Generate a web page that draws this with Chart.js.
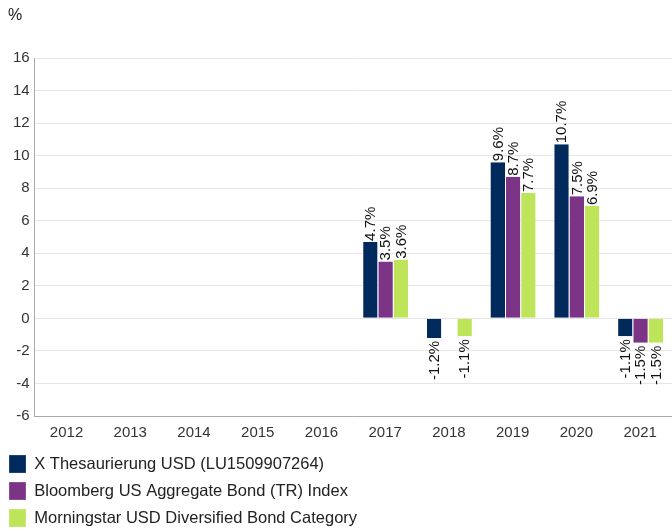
<!DOCTYPE html>
<html>
<head>
<meta charset="utf-8">
<script src="https://cdn.jsdelivr.net/npm/chart.js@4"></script>
<style>
  html, body { margin: 0; padding: 0; background: #fff; }
  #wrap { position: relative; width: 672px; height: 531px; }
  #unit { position: absolute; left: 8px; top: 6px; font: 16px "Liberation Sans", Arial, sans-serif; color: #222; }
</style>
</head>
<body>
<div id="wrap">
  <div id="unit">%</div>
  <canvas id="chartBar" width="672" height="531"></canvas>
</div>
<script>
const years = ['2012', '2013', '2014', '2015', '2016', '2017', '2018', '2019', '2020', '2021'];
const fundValues = [null, null, null, null, null, 4.7, -1.2, 9.6, 10.7, -1.1];
const indexValues = [null, null, null, null, null, 3.5, null, 8.7, 7.5, -1.5];
const categoryValues = [null, null, null, null, null, 3.6, -1.1, 7.7, 6.9, -1.5];
const seriesNames = [
    'X Thesaurierung USD (LU1509907264)',
    'Bloomberg US Aggregate Bond (TR) Index',
    'Morningstar USD Diversified Bond Category'
];

const fontFamily = '"Liberation Sans", Arial, sans-serif';

// valeurs au-dessus / en-dessous des barres, texte vertical
const barLabels = {
    id: 'barLabels',
    afterDatasetsDraw(chart) {
        const ctx = chart.ctx;
        ctx.save();
        ctx.font = '15px ' + fontFamily;
        ctx.fillStyle = '#111';
        ctx.textBaseline = 'middle';
        chart.data.datasets.forEach((ds, i) => {
            const meta = chart.getDatasetMeta(i);
            meta.data.forEach((bar, j) => {
                const v = ds.data[j];
                if (v === null || v === undefined) return;
                const txt = v.toFixed(1) + '%';
                ctx.save();
                if (v >= 0) {
                    ctx.translate(bar.x + 1, bar.y - 1);
                    ctx.rotate(-Math.PI / 2);
                    ctx.textAlign = 'left';
                } else {
                    ctx.translate(bar.x + 1, bar.y + 3);
                    ctx.rotate(-Math.PI / 2);
                    ctx.textAlign = 'right';
                }
                ctx.fillText(txt, 0, 0);
                ctx.restore();
            });
        });
        ctx.restore();
    }
};

const ctxBar = document.getElementById('chartBar').getContext('2d');
const chartBar = new Chart(ctxBar, {
    type: 'bar',
    data: {
        labels: years,
        datasets: [
            {
                label: seriesNames[0],
                data: fundValues,
                backgroundColor: '#012A5C',
                borderColor: '#ffffff',
                borderWidth: { left: 1, right: 0, top: 0, bottom: 0 },
            },
            {
                label: seriesNames[1],
                data: indexValues,
                backgroundColor: '#7C3586',
                borderColor: '#ffffff',
                borderWidth: { left: 1, right: 0, top: 0, bottom: 0 },
            },
            {
                label: seriesNames[2],
                data: categoryValues,
                backgroundColor: '#BEE55A',
                borderColor: '#ffffff',
                borderWidth: { left: 1, right: 0, top: 0, bottom: 0 },
            },
        ]
    },
    options: {
        responsive: false,
        animation: false,
        layout: { padding: { top: 58, left: 0, right: 0, bottom: -6 } },
        datasets: {
            bar: { categoryPercentage: 0.72, barPercentage: 1.0, grouped: true }
        },
        scales: {
            x: {
                offset: true,
                grid: { display: false },
                border: { color: '#aaa' },
                ticks: { color: '#333', font: { size: 15, family: fontFamily }, padding: 0 },
                afterFit: (scale) => { scale.height += 4; }
            },
            y: {
                min: -6,
                max: 16,
                ticks: { stepSize: 2, color: '#333', font: { size: 15, family: fontFamily }, padding: 5 },
                grid: { color: '#e6e6e6', drawTicks: false },
                border: { color: '#aaa' },
                afterFit: (scale) => { scale.width += 8; }
            }
        },
        plugins: {
            legend: {
                position: 'bottom',
                align: 'start',
                labels: {
                    boxWidth: 17,
                    boxHeight: 18,
                    padding: 9,
                    color: '#222',
                    font: { size: 16.5, family: fontFamily }
                }
            },
            tooltip: { enabled: false }
        }
    },
    plugins: [barLabels]
});
</script>
</body>
</html>
